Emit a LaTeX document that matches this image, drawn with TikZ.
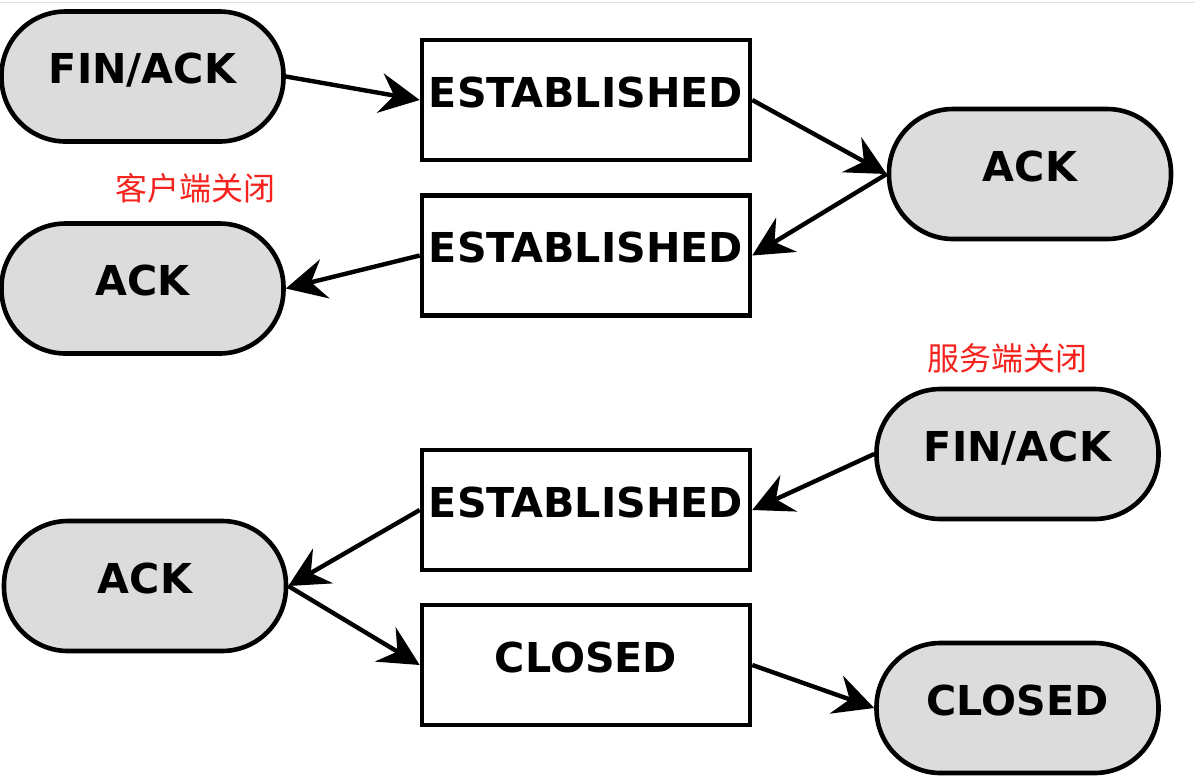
\documentclass[tikz,border=0pt]{standalone}
\usepackage{fontspec}
\setmainfont{DejaVu Sans}
\newfontfamily\cjk{Noto Sans CJK SC}
\usetikzlibrary{arrows.meta}
\definecolor{pillgray}{RGB}{220,220,220}
\definecolor{notered}{RGB}{245,35,30}
\begin{document}
\begin{tikzpicture}[x=.5pt,y=-.5pt,
 pill/.style={rectangle,rounded corners=32pt,draw,line width=2.3pt,fill=pillgray,minimum width=141pt,minimum height=65pt,inner sep=0pt,font=\fontsize{20.6}{24}\selectfont\bfseries,text height=15pt,text depth=8pt},
 state/.style={rectangle,draw,line width=2.3pt,minimum width=164pt,minimum height=60pt,inner sep=0pt,font=\fontsize{20.6}{24}\selectfont\bfseries,text height=15pt,text depth=8pt},
 note/.style={text=notered,inner sep=0pt,font=\cjk\fontsize{16}{18}\selectfont},
 flow/.style={line width=2.2pt,-{Stealth[length=20pt,width=20pt,inset=7pt]}}]
 \useasboundingbox (0,0) rectangle (1195,783);
 \draw[black!12,line width=.5pt] (0,2.5)--(1195,2.5);
 % client closes
 \node[pill] (finack1) at (142.5,76.5) {FIN/ACK};
 \node[state] (est1) at (586,100) {ESTABLISHED};
 \node[pill] (ack1) at (1030,174) {ACK};
 \node[state] (est2) at (586,255.5) {ESTABLISHED};
 \node[pill] (ack2) at (142.5,288.5) {ACK};
 \node[note] (client) at (195,188) {客户端关闭};
 \draw[flow] (finack1.east)--(est1.west);
 \draw[flow] (est1.east)--(ack1.west);
 \draw[flow] (ack1.west)--(est2.east);
 \draw[flow] (est2.west)--(ack2.east);
 % server closes
 \node[note] (server) at (1007,358) {服务端关闭};
 \node[pill] (finack2) at (1017.5,454) {FIN/ACK};
 \node[state] (est3) at (586,510) {ESTABLISHED};
 \node[pill] (ack3) at (145,586) {ACK};
 \node[state] (closed1) at (586,665) {CLOSED};
 \node[pill] (closed2) at (1017.5,708) {CLOSED};
 \draw[flow] (finack2.west)--(est3.east);
 \draw[flow] (est3.west)--(ack3.east);
 \draw[flow] (ack3.east)--(closed1.west);
 \draw[flow] (closed1.east)--(closed2.west);
\end{tikzpicture}
\end{document}
